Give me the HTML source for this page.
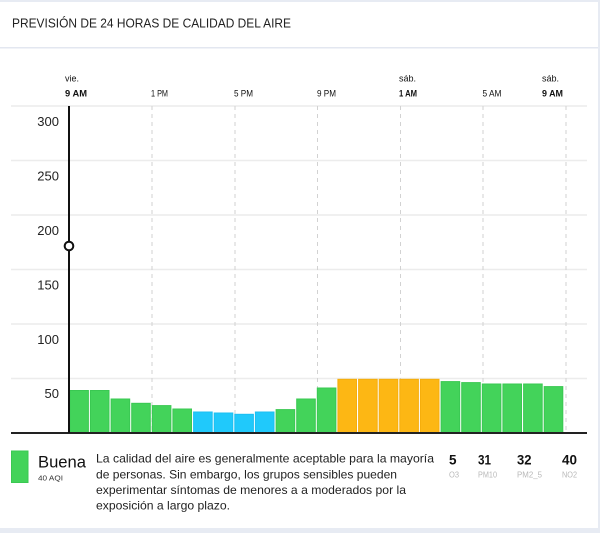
<!DOCTYPE html>
<html><head><meta charset="utf-8"><style>
html,body{margin:0;padding:0;background:#e7ebf3;}
svg{display:block;}
text{font-family:"Liberation Sans",sans-serif;}
</style></head><body>
<svg width="600" height="533" viewBox="0 0 600 533" xmlns="http://www.w3.org/2000/svg">
<rect x="0" y="0" width="600" height="533" fill="#e7ebf3"/>
<rect x="0" y="2" width="598" height="526" fill="#ffffff"/>
<rect x="0" y="47" width="598" height="1.5" fill="#e3e7f0"/>
<text x="12" y="27.5" font-size="12.8" fill="#222" textLength="279" lengthAdjust="spacingAndGlyphs">PREVISIÓN DE 24 HORAS DE CALIDAD DEL AIRE</text>

<!-- gridlines -->
<g stroke="#ececec" stroke-width="1.5">
<line x1="11" y1="106" x2="587" y2="106"/>
<line x1="11" y1="160.5" x2="587" y2="160.5"/>
<line x1="11" y1="215" x2="587" y2="215"/>
<line x1="11" y1="269.5" x2="587" y2="269.5"/>
<line x1="11" y1="324" x2="587" y2="324"/>
<line x1="11" y1="378.5" x2="587" y2="378.5"/>
</g>
<!-- dashed verticals -->
<g stroke="#d2d2d2" stroke-width="1" stroke-dasharray="4,4">
<line x1="152" y1="106" x2="152" y2="432"/>
<line x1="235" y1="106" x2="235" y2="432"/>
<line x1="317.5" y1="106" x2="317.5" y2="432"/>
<line x1="400.5" y1="106" x2="400.5" y2="432"/>
<line x1="483" y1="106" x2="483" y2="432"/>
<line x1="566" y1="106" x2="566" y2="432"/>
</g>

<!-- y labels -->
<g font-size="13" fill="#222" text-anchor="end">
<text x="59" y="126">300</text>
<text x="59" y="180.5">250</text>
<text x="59" y="235">200</text>
<text x="59" y="289.5">150</text>
<text x="59" y="344">100</text>
<text x="59" y="398">50</text>
</g>

<!-- time labels -->
<g font-size="9" fill="#111">
<text x="65" y="81.5">vie.</text>
<text x="65" y="96.5" font-weight="bold" textLength="22" lengthAdjust="spacingAndGlyphs">9 AM</text>
<text x="151" y="96.5" textLength="17" lengthAdjust="spacingAndGlyphs">1 PM</text>
<text x="234" y="96.5" textLength="19" lengthAdjust="spacingAndGlyphs">5 PM</text>
<text x="317" y="96.5" textLength="19" lengthAdjust="spacingAndGlyphs">9 PM</text>
<text x="399" y="81.5">sáb.</text>
<text x="399" y="96.5" font-weight="bold" textLength="18" lengthAdjust="spacingAndGlyphs">1 AM</text>
<text x="482.5" y="96.5" textLength="19" lengthAdjust="spacingAndGlyphs">5 AM</text>
<text x="542" y="81.5">sáb.</text>
<text x="542" y="96.5" font-weight="bold" textLength="21" lengthAdjust="spacingAndGlyphs">9 AM</text>
</g>

<!-- bars -->
<g stroke-width="1">
<rect x="69.8" y="390.5" width="18.6" height="42" fill="#43d35a" stroke="#3ac852"/>
<rect x="90.4" y="390.5" width="18.6" height="42" fill="#43d35a" stroke="#3ac852"/>
<rect x="111.1" y="399" width="18.6" height="33.5" fill="#43d35a" stroke="#3ac852"/>
<rect x="131.7" y="403.3" width="18.6" height="29.2" fill="#43d35a" stroke="#3ac852"/>
<rect x="152.3" y="405.6" width="18.6" height="26.9" fill="#43d35a" stroke="#3ac852"/>
<rect x="172.9" y="409" width="18.6" height="23.5" fill="#43d35a" stroke="#3ac852"/>
<rect x="193.6" y="412" width="18.6" height="20.5" fill="#20c9fb" stroke="#1bbff2"/>
<rect x="214.2" y="413" width="18.6" height="19.5" fill="#20c9fb" stroke="#1bbff2"/>
<rect x="234.8" y="414.3" width="18.6" height="18.2" fill="#20c9fb" stroke="#1bbff2"/>
<rect x="255.4" y="412" width="18.6" height="20.5" fill="#20c9fb" stroke="#1bbff2"/>
<rect x="276.1" y="409.6" width="18.6" height="22.9" fill="#43d35a" stroke="#3ac852"/>
<rect x="296.7" y="399" width="18.6" height="33.5" fill="#43d35a" stroke="#3ac852"/>
<rect x="317.3" y="388" width="18.6" height="44.5" fill="#43d35a" stroke="#3ac852"/>
<rect x="337.9" y="379.3" width="18.6" height="53.2" fill="#fdb714" stroke="#f5ad0c"/>
<rect x="358.6" y="379.3" width="18.6" height="53.2" fill="#fdb714" stroke="#f5ad0c"/>
<rect x="379.2" y="379.3" width="18.6" height="53.2" fill="#fdb714" stroke="#f5ad0c"/>
<rect x="399.8" y="379.3" width="18.6" height="53.2" fill="#fdb714" stroke="#f5ad0c"/>
<rect x="420.4" y="379.3" width="18.6" height="53.2" fill="#fdb714" stroke="#f5ad0c"/>
<rect x="441.1" y="381.6" width="18.6" height="50.9" fill="#43d35a" stroke="#3ac852"/>
<rect x="461.7" y="382.6" width="18.6" height="49.9" fill="#43d35a" stroke="#3ac852"/>
<rect x="482.3" y="384" width="18.6" height="48.5" fill="#43d35a" stroke="#3ac852"/>
<rect x="502.9" y="384" width="18.6" height="48.5" fill="#43d35a" stroke="#3ac852"/>
<rect x="523.6" y="384" width="18.6" height="48.5" fill="#43d35a" stroke="#3ac852"/>
<rect x="544.2" y="386.6" width="18.6" height="45.9" fill="#43d35a" stroke="#3ac852"/>
</g>

<!-- baseline and axis -->
<rect x="11" y="432" width="576" height="2" fill="#222"/>
<rect x="68" y="106" width="2" height="327" fill="#111"/>
<circle cx="69" cy="246" r="4.3" fill="#fff" stroke="#111" stroke-width="2"/>

<!-- legend -->
<rect x="11.5" y="451" width="16.5" height="31.5" fill="#43d35a" stroke="#3ac852" stroke-width="1"/>
<text x="38" y="467.5" font-size="17" fill="#111" textLength="48" lengthAdjust="spacingAndGlyphs">Buena</text>
<text x="38" y="480.5" font-size="7.5" fill="#333" textLength="25" lengthAdjust="spacingAndGlyphs">40 AQI</text>

<g font-size="12" fill="#222">
<text x="96" y="462.3" textLength="338" lengthAdjust="spacingAndGlyphs">La calidad del aire es generalmente aceptable para la mayoría</text>
<text x="96" y="478.3" textLength="301" lengthAdjust="spacingAndGlyphs">de personas. Sin embargo, los grupos sensibles pueden</text>
<text x="96" y="494" textLength="310" lengthAdjust="spacingAndGlyphs">experimentar síntomas de menores a a moderados por la</text>
<text x="96" y="509.7" textLength="134" lengthAdjust="spacingAndGlyphs">exposición a largo plazo.</text>
</g>

<g font-size="13.5" fill="#111" font-weight="bold">
<text x="449" y="464.5">5</text>
<text x="478" y="464.5" textLength="13" lengthAdjust="spacingAndGlyphs">31</text>
<text x="517" y="464.5" textLength="14.5" lengthAdjust="spacingAndGlyphs">32</text>
<text x="562" y="464.5" textLength="15" lengthAdjust="spacingAndGlyphs">40</text>
</g>
<g font-size="8" fill="#b8b8b8">
<text x="449" y="477.5" textLength="10" lengthAdjust="spacingAndGlyphs">O3</text>
<text x="478" y="477.5" textLength="19" lengthAdjust="spacingAndGlyphs">PM10</text>
<text x="517" y="477.5" textLength="25" lengthAdjust="spacingAndGlyphs">PM2_5</text>
<text x="562" y="477.5" textLength="15" lengthAdjust="spacingAndGlyphs">NO2</text>
</g>
</svg>
</body></html>
